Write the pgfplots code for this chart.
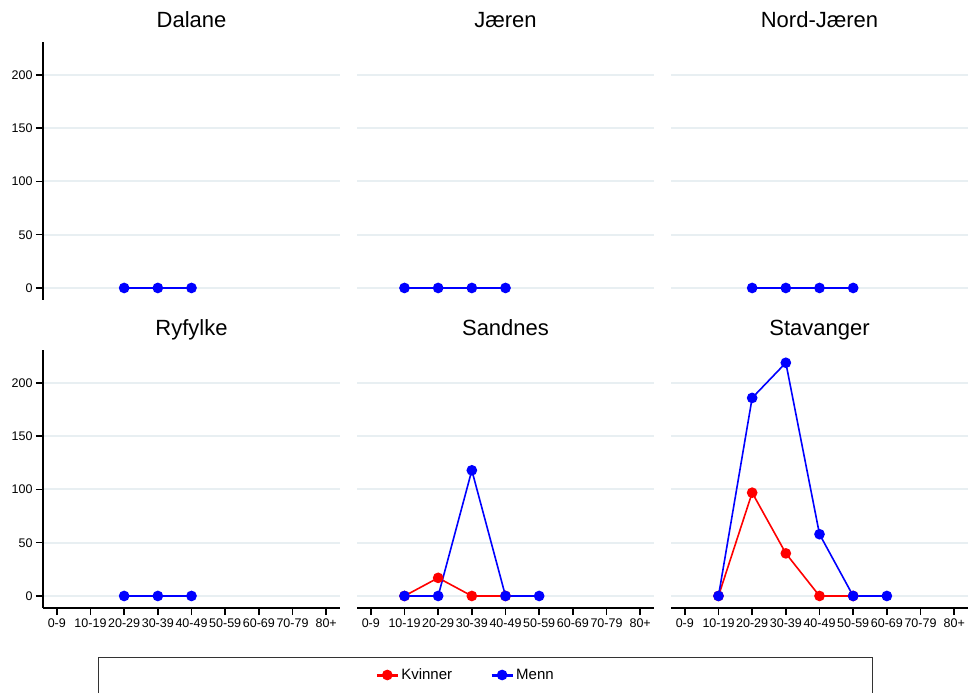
\documentclass[border=0pt]{standalone}
\usepackage{pgfplots}
\pgfplotsset{compat=1.18}
\usepackage{fontspec}
\setmainfont{Liberation Sans}

\definecolor{gridc}{RGB}{232,239,242}
\definecolor{kv}{RGB}{255,0,0}
\definecolor{me}{RGB}{0,0,255}

\pgfplotsset{
  panel/.style={
    scale only axis, width=297pt, height=258pt,
    xmin=-0.41, xmax=8.41, ymin=-11.3, ymax=231,
    xtick={0,...,8},
    xticklabels={0-9,10-19,20-29,30-39,40-49,50-59,60-69,70-79,80+},
    ytick={0,50,100,150,200},
    axis lines*=left,
    axis line style={line width=1.5pt, black},
    tick align=outside,
    major tick length=7pt,
    tick style={line width=1.5pt, black},
    ymajorgrids,
    grid style={line width=2pt, gridc},
    tick label style={font=\fontsize{12.5}{14}\selectfont},
    /pgf/number format/assume math mode=true,
    title style={font=\fontsize{22}{26}\selectfont, at={(0.5,1)}, anchor=base, yshift=8pt},
    clip=false,
  },
  nox/.style={x axis line style={draw=none}, xtick style={draw=none}, xticklabels={}},
  noy/.style={y axis line style={draw=none}, ytick style={draw=none}, yticklabels={}},
  kvline/.style={kv, line width=1.6pt, mark=*, mark size=4.5pt, mark options={fill=kv}},
  meline/.style={me, line width=1.6pt, mark=*, mark size=4.5pt, mark options={fill=me}},
}

\begin{document}
\begin{tikzpicture}
\useasboundingbox (0pt,0pt) rectangle (968pt,693pt);

% Row 1
\begin{axis}[panel, nox, title={Dalane}, at={(43pt,651pt)}, anchor=north west]
  \addplot[meline] coordinates {(2,0) (3,0) (4,0)};
\end{axis}
\begin{axis}[panel, nox, noy, title={Jæren}, at={(357pt,651pt)}, anchor=north west]
  \addplot[meline] coordinates {(1,0) (2,0) (3,0) (4,0)};
\end{axis}
\begin{axis}[panel, nox, noy, title={Nord-Jæren}, at={(671pt,651pt)}, anchor=north west]
  \addplot[meline] coordinates {(2,0) (3,0) (4,0) (5,0)};
\end{axis}

% Row 2
\begin{axis}[panel, title={Ryfylke}, at={(43pt,343pt)}, anchor=north west]
  \addplot[meline] coordinates {(2,0) (3,0) (4,0)};
\end{axis}
\begin{axis}[panel, noy, title={Sandnes}, at={(357pt,343pt)}, anchor=north west,
    legend columns=2,
    legend style={at={(axis description cs:0.3653,-0.2597)}, anchor=center,
      draw=none, fill=none, font=\fontsize{15}{18}\selectfont,
      /tikz/every even column/.append style={column sep=36pt}},
    legend image code/.code={
      \draw[#1, mark=none, line width=3pt] (0pt,0pt) -- (21pt,0pt);
      \draw[#1, mark size=4.5pt, only marks] plot coordinates {(10.5pt,0pt)};
    }]
  \addplot[kvline] coordinates {(1,0) (2,17) (3,0) (4,0)};
  \addplot[meline] coordinates {(1,0) (2,0) (3,118) (4,0) (5,0)};
  \legend{Kvinner, Menn}
\end{axis}
\begin{axis}[panel, noy, title={Stavanger}, at={(671pt,343pt)}, anchor=north west]
  \addplot[kvline] coordinates {(1,0) (2,97) (3,40) (4,0) (5,0)};
  \addplot[meline] coordinates {(1,0) (2,186) (3,219) (4,58) (5,0) (6,0)};
\end{axis}

% Legend frame
\draw[line width=1pt, black!80] (98pt,0pt) -- (98pt,36pt) -- (872pt,36pt) -- (872pt,0pt);
\end{tikzpicture}
\end{document}
